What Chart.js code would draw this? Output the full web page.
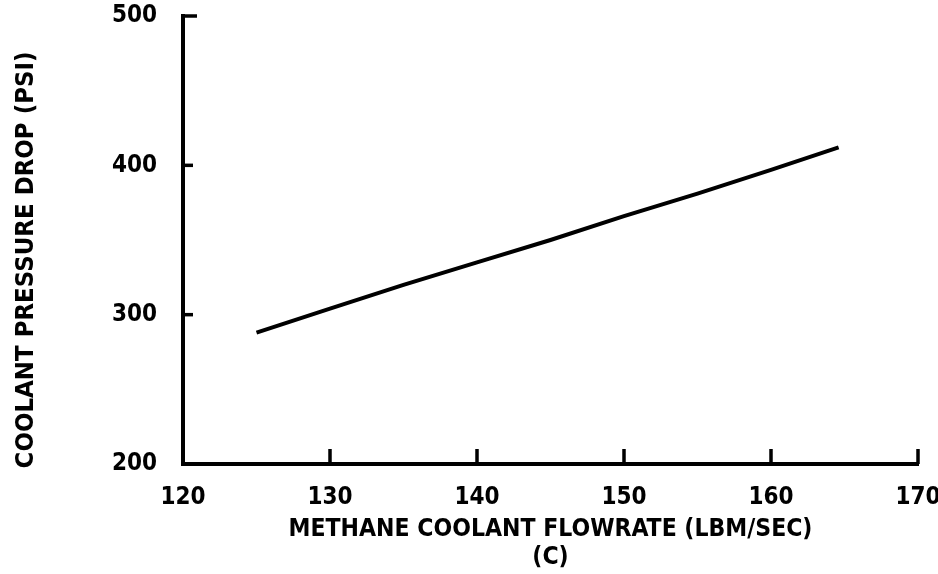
<!DOCTYPE html>
<html>
<head>
<meta charset="utf-8">
<script src="https://cdn.jsdelivr.net/npm/chart.js@4.4.1/dist/chart.umd.min.js"></script>
<style>
  html, body { margin: 0; padding: 0; background: #fff; }
  #wrap { width: 938px; height: 574px; }
</style>
</head>
<body>
<div id="wrap"><canvas id="chart" width="938" height="574"></canvas></div>
<script>
// values
const flowrate = [125, 130, 135, 140, 145, 150, 155, 160, 164.6];
const pressureDrop = [288, 304, 320, 335, 350, 366, 381, 397, 412];
const xTickValues = [120, 130, 140, 150, 160, 170];
const yTickValues = [200, 300, 400, 500];

const family = "'DejaVu Sans Condensed', 'DejaVu Sans', sans-serif";
const labelFont = { family: family, size: 24, weight: 'bold' };

// tick marks in the original point into the plot, so draw them ourselves
const inwardTicks = {
    id: 'inwardTicks',
    afterDraw(chart) {
        const ctx = chart.ctx;
        const x = chart.scales.x, y = chart.scales.y;
        const area = chart.chartArea;
        ctx.save();
        ctx.strokeStyle = '#000';
        ctx.lineWidth = 3.5;
        xTickValues.slice(1).forEach(v => {
            const px = x.getPixelForValue(v);
            ctx.beginPath();
            ctx.moveTo(px, area.bottom);
            ctx.lineTo(px, area.bottom - 15);
            ctx.stroke();
        });
        yTickValues.slice(1).forEach(v => {
            const py = y.getPixelForValue(v);
            ctx.beginPath();
            ctx.moveTo(area.left, py);
            ctx.lineTo(area.left + (v === 500 ? 14 : 10), py);
            ctx.stroke();
        });
        ctx.restore();
    }
};

new Chart(document.getElementById('chart'), {
    type: 'line',
    data: {
        datasets: [{
            data: flowrate.map((f, i) => ({ x: f, y: pressureDrop[i] })),
            borderColor: '#000',
            borderWidth: 4,
            pointRadius: 0,
            tension: 0,
            fill: false
        }]
    },
    options: {
        responsive: false,
        animation: false,
        layout: { padding: { top: 16, right: 20, left: 0, bottom: 0 } },
        plugins: {
            legend: { display: false },
            tooltip: { enabled: false }
        },
        scales: {
            x: {
                type: 'linear',
                min: 120,
                max: 170,
                afterBuildTicks: s => { s.ticks = xTickValues.map(v => ({ value: v })); },
                afterFit: s => {
                    s.height = 110;
                    s.paddingLeft = 0; s.paddingRight = 0;
                    s.paddingTop = 0; s.paddingBottom = 0;
                },
                grid: { display: false, drawTicks: false },
                border: { display: true, color: '#000', width: 4 },
                ticks: { color: '#000', font: labelFont, padding: 19, maxRotation: 0 },
                title: {
                    display: true,
                    text: ['METHANE COOLANT FLOWRATE (LBM/SEC)', '(C)'],
                    color: '#000',
                    font: { family: family, size: 24.5, weight: 'bold', lineHeight: 1.15 },
                    padding: { top: 0, bottom: 2 }
                }
            },
            y: {
                type: 'linear',
                min: 200,
                max: 500,
                afterBuildTicks: s => { s.ticks = yTickValues.map(v => ({ value: v })); },
                afterFit: s => {
                    s.width = 183;
                    s.paddingLeft = 0; s.paddingRight = 0;
                    s.paddingTop = 0; s.paddingBottom = 0;
                },
                grid: { display: false, drawTicks: false },
                border: { display: true, color: '#000', width: 4 },
                ticks: { color: '#000', font: labelFont, padding: 26 },
                title: {
                    display: true,
                    // trailing spaces push the label down a little, as in the scan
                    text: 'COOLANT PRESSURE DROP (PSI)     ',
                    color: '#000',
                    font: { family: family, size: 25.5, weight: 'bold' },
                    padding: { top: 11, bottom: 0 }
                }
            }
        }
    },
    plugins: [inwardTicks]
});
</script>
</body>
</html>
